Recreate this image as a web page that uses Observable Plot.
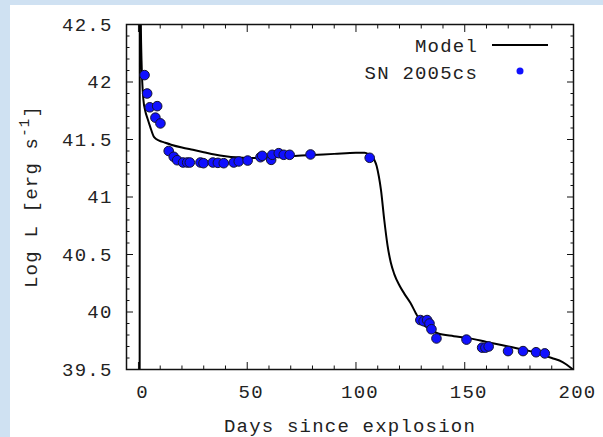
<!DOCTYPE html>
<html><head><meta charset="utf-8">
<script src="https://cdn.jsdelivr.net/npm/d3@7"></script>
<script src="https://cdn.jsdelivr.net/npm/@observablehq/plot@0.6"></script>
<style>
html,body{margin:0;padding:0;background:#cfe1f2;width:603px;height:437px;overflow:hidden}
#chart{position:absolute;left:10px;top:5px;width:593px;height:432px;background:#fff}
</style></head><body><div id="chart"></div>
<script>
// Observed SN 2005cs bolometric light curve
const obsDays = [2.8, 4.0, 5.2, 8.6, 7.8, 10.1, 13.9, 16.2, 17.8,
  20.5, 22.4, 23.6, 28.5, 29.9, 34.2, 36.5, 39.2, 43.8, 46.1, 50.2, 56.1, 56.9, 61.0, 61.5, 64.5, 66.8, 69.5, 79.1, 106.3,
  129.6, 131.1, 132.7, 133.8, 134.7, 137.0, 150.8, 158.0, 159.5, 161.0, 169.9, 176.8, 182.8, 186.8];
const obsLum = [42.06, 41.90, 41.78, 41.79, 41.69, 41.64, 41.40, 41.35, 41.32,
  41.30, 41.30, 41.30, 41.30, 41.294, 41.30, 41.297, 41.294, 41.30, 41.309, 41.317, 41.346, 41.358, 41.323, 41.367, 41.381, 41.367, 41.367, 41.37, 41.341,
  39.93, 39.92, 39.93, 39.90, 39.85, 39.77, 39.76, 39.69, 39.69, 39.70, 39.66, 39.66, 39.65, 39.64];
// Model light curve
const modelDays = [0.55, 0.6, 0.9, 1.1, 1.4, 2.3, 3.1, 4.2, 5.4, 7.2, 9.5, 11.8, 15, 20, 25, 30, 35, 40, 45, 50, 55, 60, 65, 70, 80, 90, 100, 104, 106, 107.5, 108.5, 109.5, 110.5, 111.5, 113, 114.5, 116, 117.6, 120, 122.2, 125, 127.5, 130, 133, 137.5, 145, 151, 160, 170, 180, 190, 195, 201];
const modelLum = [39.0, 44.0, 43.0, 42.5, 42.19, 41.84, 41.75, 41.68, 41.61, 41.52, 41.49, 41.475, 41.455, 41.43, 41.41, 41.39, 41.37, 41.355, 41.345, 41.34, 41.34, 41.345, 41.35, 41.355, 41.365, 41.375, 41.385, 41.385, 41.37, 41.35, 41.32, 41.27, 41.18, 41.06, 40.8, 40.58, 40.43, 40.33, 40.23, 40.16, 40.08, 39.99, 39.91, 39.86, 39.815, 39.79, 39.775, 39.74, 39.70, 39.66, 39.60, 39.565, 39.48];
// Ticks
const xMajor = [0, 50, 100, 150, 200];
const xMinor = [10, 20, 30, 40, 60, 70, 80, 90, 110, 120, 130, 140, 160, 170, 180, 190];
const yMajor = [39.5, 40, 40.5, 41, 41.5, 42, 42.5];
const yMinor = [39.6, 39.7, 39.8, 39.9, 40.1, 40.2, 40.3, 40.4, 40.6, 40.7, 40.8, 40.9, 41.1, 41.2, 41.3, 41.4, 41.6, 41.7, 41.8, 41.9, 42.1, 42.2, 42.3, 42.4];
const seriesNames = ["Model", "SN 2005cs"];
const xLabel = "Days since explosion";

const obs = obsDays.map((d, i) => ({d, L: obsLum[i]}));
const model = modelDays.map((d, i) => ({d, L: modelLum[i]}));
const blank = () => "";

function ticks(axis, data, anchor, size) {
  const o = {anchor, tickSize: size, tickFormat: blank, label: null, stroke: "#111", strokeWidth: 1};
  if (anchor === "bottom") o.insetBottom = size;
  if (anchor === "top") o.insetTop = size;
  if (anchor === "left") o.insetLeft = size;
  if (anchor === "right") o.insetRight = size;
  return axis(data, o);
}

const chart = Plot.plot({
  width: 593, height: 432,
  marginLeft: 116, marginRight: 30, marginTop: 19, marginBottom: 68,
  x: {domain: [-5.5, 200]},
  y: {domain: [39.5, 42.5]},
  style: {fontFamily: "'Liberation Mono', monospace", fontSize: "19px", color: "#222", background: "white", letterSpacing: "1.2px"},
  marks: [
    Plot.line(model, {x: "d", y: "L", stroke: "black", strokeWidth: 2, curve: "monotone-x", clip: true}),
    Plot.dot(obs, {x: "d", y: "L", r: 4.8, fill: "#1010ff", stroke: "#141430", strokeWidth: 1, clip: true}),
    ticks(Plot.axisX, xMajor, "bottom", 7), ticks(Plot.axisX, xMinor, "bottom", 3.5),
    ticks(Plot.axisX, xMajor, "top", 7), ticks(Plot.axisX, xMinor, "top", 3.5),
    ticks(Plot.axisY, yMajor, "left", 7), ticks(Plot.axisY, yMinor, "left", 3.5),
    ticks(Plot.axisY, yMajor, "right", 7), ticks(Plot.axisY, yMinor, "right", 3.5),
    Plot.axisX(xMajor, {anchor: "bottom", tickSize: 0, tickPadding: 15, dx: 4, tickFormat: d => `${d}`, label: null}),
    Plot.axisY(yMajor, {anchor: "left", tickSize: 0, tickPadding: 14, tickFormat: d => `${d}`, label: null}),
    Plot.frame({stroke: "#111", strokeWidth: 1.5})
  ]
});
document.getElementById("chart").appendChild(chart);

const svg = d3.select(chart);
const font = "'Liberation Mono', monospace";
// axis titles
svg.append("text").attr("x", 340).attr("y", 426.5).attr("text-anchor", "middle")
  .attr("font-family", font).attr("font-size", 19).attr("fill", "#222").style("letter-spacing", "1.2px")
  .text(xLabel);
const yl = svg.append("text").attr("transform", "translate(27,191.5) rotate(-90)").attr("text-anchor", "middle")
  .attr("font-family", font).attr("font-size", 19).attr("fill", "#222").style("letter-spacing", "1.2px");
yl.append("tspan").text("Log L [erg s");
yl.append("tspan").attr("dy", -8).attr("font-size", 14).text("-1");
yl.append("tspan").attr("dy", 8).text("]");
// legend
const lg = svg.append("g").attr("font-family", font).attr("font-size", 19).attr("fill", "#222").style("letter-spacing", "1.2px");
lg.append("text").attr("x", 468).attr("y", 40).attr("dy", "0.35em").attr("text-anchor", "end").text(seriesNames[0]);
lg.append("line").attr("x1", 482).attr("x2", 538).attr("y1", 40).attr("y2", 40).attr("stroke", "black").attr("stroke-width", 2);
lg.append("text").attr("x", 468).attr("y", 67).attr("dy", "0.35em").attr("text-anchor", "end").text(seriesNames[1]);
lg.append("circle").attr("cx", 510).attr("cy", 66).attr("r", 3.5).attr("fill", "#1010ff");
</script></body></html>
